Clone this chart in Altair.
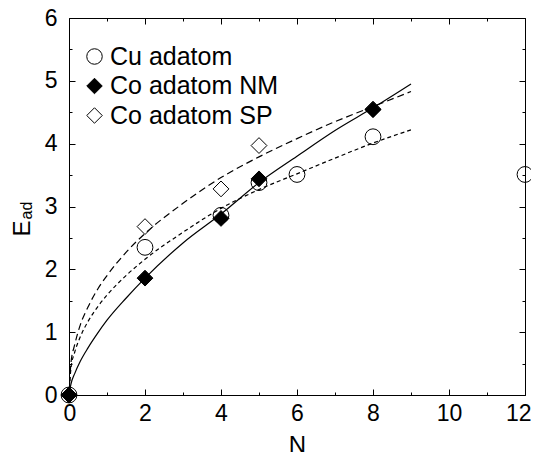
import altair as alt
import pandas as pd

# ---- data ----
series_names = ["Cu adatom", "Co adatom NM", "Co adatom SP"]

cu_n = [0, 2, 4, 5, 6, 8, 12]
cu_e = [0, 2.35, 2.86, 3.38, 3.51, 4.11, 3.51]
nm_n = [0, 2, 4, 5, 8]
nm_e = [0, 1.86, 2.81, 3.44, 4.54]
sp_n = [0, 2, 4, 5, 8]
sp_e = [0, 2.68, 3.28, 3.97, 4.55]

# fitted curves, values
fit_n = [0, 0.05, 0.15, 0.3, 0.5, 0.75, 1, 1.5, 2, 3, 4, 5, 6, 7, 8, 9]
fit_cu = [0, 0.42, 0.68, 0.93, 1.17, 1.40, 1.59, 1.90, 2.16, 2.59, 2.97, 3.27, 3.52, 3.77, 4.01, 4.22]
fit_nm = [0, 0.17, 0.34, 0.54, 0.75, 0.98, 1.19, 1.54, 1.86, 2.42, 2.88, 3.38, 3.80, 4.21, 4.57, 4.95]
fit_sp = [0, 0.50, 0.80, 1.12, 1.40, 1.68, 1.90, 2.27, 2.57, 3.05, 3.46, 3.79, 4.08, 4.35, 4.59, 4.83]

x_major = [0, 2, 4, 6, 8, 10, 12]
x_minor = [1, 3, 5, 7, 9, 11]
y_major = [0, 1, 2, 3, 4, 5, 6]
y_minor = [0.5, 1.5, 2.5, 3.5, 4.5, 5.5]

FONT = "Liberation Sans"

# ---- tables ----
pts = pd.concat([
    pd.DataFrame({"N": sp_n, "E": sp_e, "series": "Co adatom SP"}),
    pd.DataFrame({"N": nm_n, "E": nm_e, "series": "Co adatom NM"}),
    pd.DataFrame({"N": cu_n, "E": cu_e, "series": "Cu adatom"}),
], ignore_index=True)
pts["idx"] = range(len(pts))

fit_cu_df = pd.DataFrame({"N": fit_n, "E": fit_cu})
fit_nm_df = pd.DataFrame({"N": fit_n, "E": fit_nm})
fit_sp_df = pd.DataFrame({"N": fit_n, "E": fit_sp})

xs = alt.Scale(domain=[0, 12], nice=False, zero=False)
ys = alt.Scale(domain=[0, 6], nice=False, zero=False)

def tick_axis(orient, values, size, **kw):
    base = dict(orient=orient, values=values, offset=-size, tickSize=size,
                tickColor="black", tickWidth=1, labels=False, domain=False,
                grid=False, title=None)
    base.update(kw)
    return alt.Axis(**base)

ax_x_bottom = tick_axis("bottom", x_major, 6, labels=True, labelFontSize=23,
                        labelFont=FONT, labelColor="black", labelPadding=7,
                        labelFlush=True, labelFlushOffset=6, labelOverlap=False,
                        title="N", titleFont=FONT, titleFontSize=24,
                        titleFontWeight="normal", titleColor="black",
                        titlePadding=8)
ax_y_left = tick_axis("left", y_major, 6, labels=True, labelFontSize=23,
                      labelFont=FONT, labelColor="black", labelPadding=12,
                      labelFlush=False, labelOverlap=False,
                      title="E", titleFont=FONT, titleFontSize=24,
                      titleFontWeight="normal", titleColor="black",
                      titleAngle=270, titleAlign="center",
                      titleBaseline="alphabetic", titleX=-46, titleY=210)
ax_y_left_minor = tick_axis("left", y_minor, 3,
                            title="ad", titleFont=FONT, titleFontSize=16,
                            titleFontWeight="normal", titleColor="black",
                            titleAngle=270, titleAlign="center",
                            titleBaseline="alphabetic", titleX=-41, titleY=192)

line_style = dict(color="black", strokeWidth=1.2, interpolate="monotone")

# short dash: Cu fit (carries bottom/left major axes with labels)
cu_line = alt.Chart(fit_cu_df).mark_line(strokeDash=[4, 3], **line_style).encode(
    x=alt.X("N:Q", scale=xs, axis=ax_x_bottom),
    y=alt.Y("E:Q", scale=ys, axis=ax_y_left),
)
# solid: Co NM fit (carries bottom/left minor ticks)
nm_line = alt.Chart(fit_nm_df).mark_line(**line_style).encode(
    x=alt.X("N:Q", scale=xs, axis=tick_axis("bottom", x_minor, 3)),
    y=alt.Y("E:Q", scale=ys, axis=ax_y_left_minor),
)
# long dash: Co SP fit (carries top/right major ticks)
sp_line = alt.Chart(fit_sp_df).mark_line(strokeDash=[7, 4], **line_style).encode(
    x=alt.X("N:Q", scale=xs, axis=tick_axis("top", x_major, 6)),
    y=alt.Y("E:Q", scale=ys, axis=tick_axis("right", y_major, 6)),
)

legend = alt.Legend(orient="none", legendX=13, legendY=26, title=None,
                    labelFont=FONT, labelFontSize=25, labelColor="black",
                    labelLimit=400,
                    symbolSize=240, symbolStrokeColor="black",
                    symbolStrokeWidth=1, labelOffset=3, rowPadding=3.5,
                    padding=0)

# markers (carry top/right minor ticks)
points = alt.Chart(pts).mark_point(filled=True, stroke="black", strokeWidth=1,
                                   size=250, opacity=1).encode(
    x=alt.X("N:Q", scale=xs, axis=tick_axis("top", x_minor, 3)),
    y=alt.Y("E:Q", scale=ys, axis=tick_axis("right", y_minor, 3)),
    shape=alt.Shape("series:N", title=None, legend=legend,
                    scale=alt.Scale(domain=series_names,
                                    range=["circle", "diamond", "diamond"])),
    color=alt.Color("series:N", title=None, legend=legend,
                    scale=alt.Scale(domain=series_names,
                                    range=["transparent", "black", "transparent"])),
    order=alt.Order("idx:Q"),
)

chart = alt.layer(cu_line, nm_line, sp_line, points).resolve_axis(
    x="independent", y="independent"
).properties(
    width=456, height=377,
    autosize=alt.AutoSizeParams(type="none"),
    padding={"left": 61, "top": 10, "right": 6, "bottom": 57},
).configure_view(
    stroke="black", strokeWidth=1
)

chart.save("out.html", embed_options={"renderer": "svg", "actions": False})
